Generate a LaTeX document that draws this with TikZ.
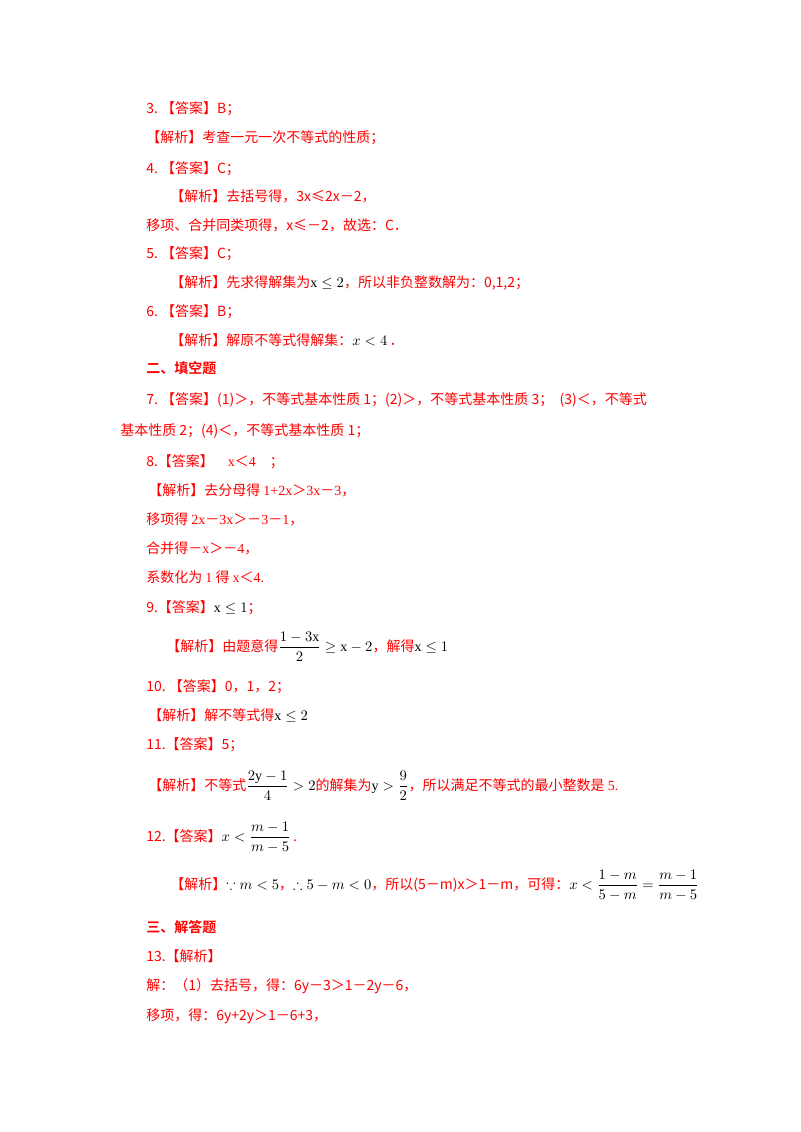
\documentclass[tikz,border=0pt]{standalone}
\usepackage{amsmath,amssymb}
\usepackage{fontspec}
\setmainfont{Noto Sans CJK SC}[BoldFont={Noto Sans CJK SC Bold}]
\setmathrm{Liberation Serif}
\newfontfamily\tms{Liberation Serif}
\definecolor{ansred}{RGB}{255,0,0}
\tikzset{
  line/.style={anchor=base west, inner sep=0pt, text=ansred, font=\fontsize{10.5}{12}\selectfont},
  head/.style={line, font=\fontsize{10.5}{12}\selectfont\bfseries},
}
\newcommand{\blk}[1]{\textcolor{black}{#1}}
\begin{document}
\begin{tikzpicture}[x=0.75pt, y=-0.75pt]
        \useasboundingbox[fill=white] (0,0) rectangle (800,1132);
        % choice answers
        \node[line] (a3) at (146,113) {3.\ 【答案】B；};
        \node[line] (j3) at (146,142) {【解析】考查一元一次不等式的性质；};
        \node[line] (a4) at (146,173) {4.\ 【答案】C；};
        \node[line] (j4) at (170,201) {【解析】去括号得，3x≤2x－2，};
        \node[line] (m4) at (146,230) {移项、合并同类项得，x≤－2，故选：C．};
        \node[line] (a5) at (146,258) {5.\ 【答案】C；};
        \node[line] (j5) at (170,287) {【解析】先求得解集为\blk{$\mathrm{x}\le 2$}，所以非负整数解为：0,1,2；};
        \node[line] (a6) at (146,316) {6.\ 【答案】B；};
        \node[line] (j6) at (170,345) {【解析】解原不等式得解集：\blk{$x<4$}\,．};
        % fill in the blanks
        \node[head] (h2) at (146,373) {二、填空题};
        \node[line] (a7) at (146,404) {7.\ 【答案】(1)＞，不等式基本性质 1；(2)＞，不等式基本性质 3；\ \ (3)＜，不等式};
        \node[line] (a7b) at (120,435) {基本性质 2；(4)＜，不等式基本性质 1；};
        \node[line] (a8) at (146,466) {8.【答案】\quad{\tms x}＜{\tms 4}\quad ；};
        \node[line] (j8) at (148,495) {【解析】去分母得 {\tms 1+2x}＞{\tms 3x}－{\tms 3}，};
        \node[line] (s8a) at (146,524) {移项得 {\tms 2x}－{\tms 3x}＞－{\tms 3}－{\tms 1}，};
        \node[line] (s8b) at (146,553) {合并得－{\tms x}＞－{\tms 4}，};
        \node[line] (s8c) at (146,582) {系数化为 {\tms 1} 得 {\tms x}＜{\tms 4.}};
        \node[line] (a9) at (146,612) {9.【答案】\blk{$\mathrm{x}\le1$}；};
        \node[line] (j9) at (166,651) {【解析】由题意得\blk{$\dfrac{1-3\mathrm{x}}{2}\ge \mathrm{x}-2$}，解得\blk{$\mathrm{x}\le1$}};
        \node[line] (a10) at (146,691) {10.\ 【答案】0，1，2；};
        \node[line] (j10) at (148,720) {【解析】解不等式得\blk{$\mathrm{x}\le2$}};
        \node[line] (a11) at (146,749) {11.【答案】5；};
        \node[line] (j11) at (148,790) {【解析】不等式\blk{$\dfrac{2\mathrm{y}-1}{4}>2$}的解集为\blk{$\mathrm{y}>\dfrac{9}{2}$}，所以满足不等式的最小整数是 {\tms 5.}};
        \node[line] (a12) at (146,841) {12.【答案】\blk{$x<\dfrac{m-1}{m-5}$}\,.};
        \node[line] (j12) at (170,889) {【解析】\blk{$\because m<5$}，\blk{$\therefore 5-m<0$}，所以(5－m)x＞1－m，可得：\blk{$x<\dfrac{1-m}{5-m}=\dfrac{m-1}{m-5}$}};
        % worked solutions
        \node[head] (h3) at (146,932) {三、解答题};
        \node[line] (s13) at (146,961) {13.【解析】};
        \node[line] (s13a) at (146,990) {解：（1）去括号，得：6y－3＞1－2y－6，};
        \node[line] (s13b) at (146,1020) {移项，得：6y+2y＞1－6+3，};
\end{tikzpicture}
\end{document}
